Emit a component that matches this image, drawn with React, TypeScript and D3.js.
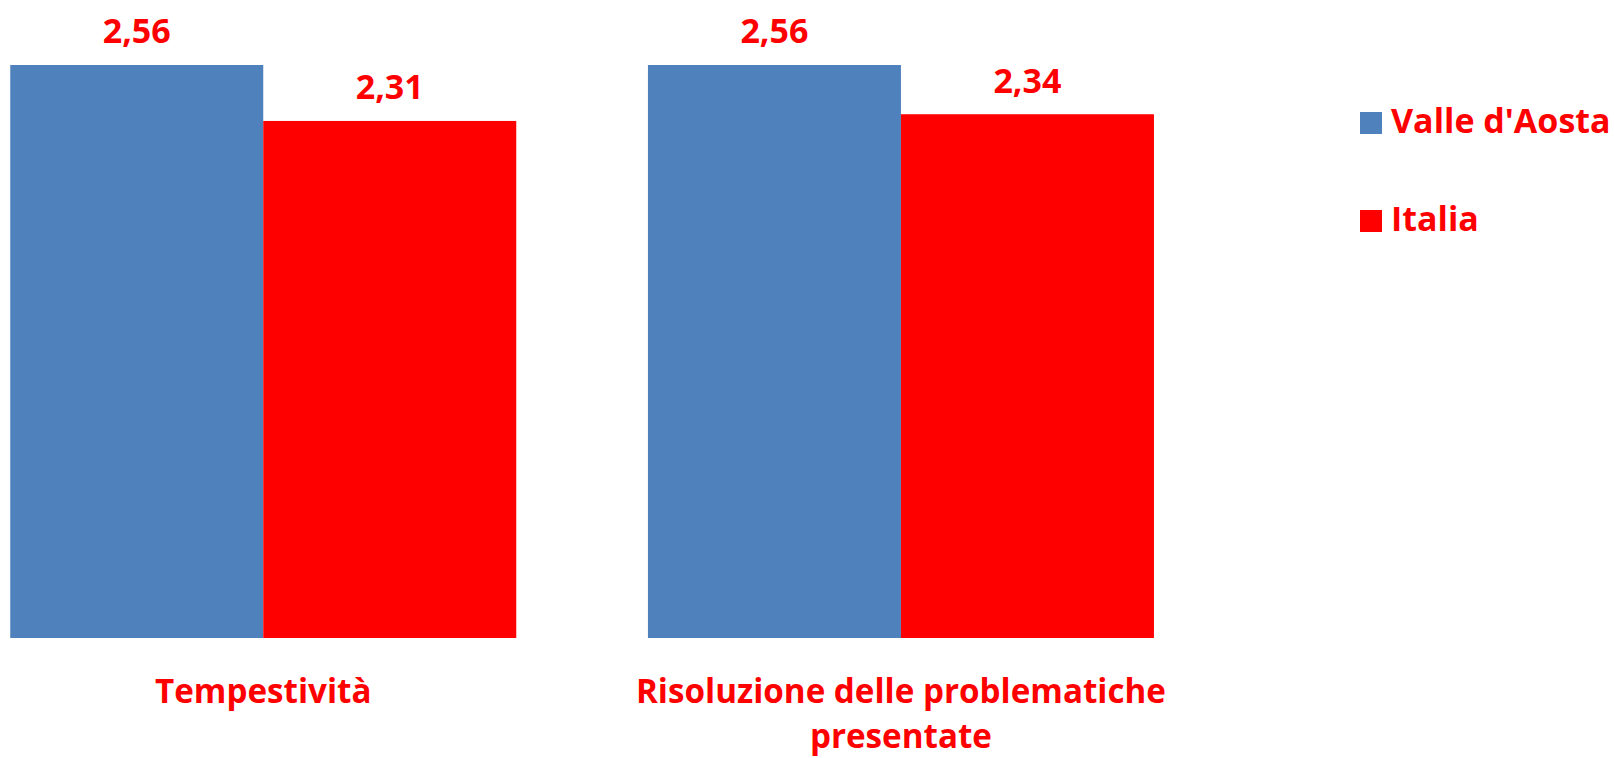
import React, { useEffect, useRef } from "react";
import * as d3 from "d3";

const categories = ["Tempestività", "Risoluzione delle problematiche presentate"];
const categoryLines = [["Tempestività"], ["Risoluzione delle problematiche", "presentate"]];
const seriesNames = ["Valle d'Aosta", "Italia"];
const valleAosta = [2.56, 2.56];
const italia = [2.31, 2.34];
const seriesColors = ["#4F81BD", "#FF0000"];

const W = 1614;
const H = 758;
const FONT = "'Open Sans', 'Noto Sans', sans-serif";

const App: React.FC = () => {
  const svgRef = useRef<SVGSVGElement>(null);

  useEffect(() => {
    if (!svgRef.current) return;
    const svg = d3.select(svgRef.current);
    svg.selectAll("*").remove();

    const series = [valleAosta, italia];

    const x0 = d3.scaleBand<string>()
      .domain(categories)
      .range([-55.6, 1219.8])
      .paddingInner(0.2065)
      .paddingOuter(0.10325);

    const x1 = d3.scaleBand<number>()
      .domain(d3.range(seriesNames.length))
      .range([0, x0.bandwidth()]);

    const y = d3.scaleLinear()
      .domain([0, 3])
      .range([638, 638 - 3 * (573 / 2.56)]);

    const groups = svg.selectAll(".grp")
      .data(categories)
      .enter()
      .append("g")
      .attr("class", "grp")
      .attr("transform", d => `translate(${x0(d)},0)`);

    groups.each(function (cat, ci) {
      const g = d3.select(this);
      series.forEach((vals, si) => {
        const v = vals[ci];
        g.append("rect")
          .attr("x", x1(si)!)
          .attr("y", y(v))
          .attr("width", x1.bandwidth())
          .attr("height", y(0) - y(v))
          .attr("fill", seriesColors[si]);
        g.append("text")
          .attr("x", x1(si)! + x1.bandwidth() / 2)
          .attr("y", y(v) - 21.7)
          .attr("text-anchor", "middle")
          .attr("font-family", FONT)
          .attr("font-weight", 700)
          .attr("font-size", 34)
          .attr("fill", "#FF0000")
          .text(d3.format(".2f")(v).replace(".", ","));
      });

      // category label, wrapped like the original
      const label = g.append("text")
        .attr("text-anchor", "middle")
        .attr("font-family", FONT)
        .attr("font-weight", 700)
        .attr("font-size", 33.2)
        .attr("fill", "#FF0000");
      categoryLines[ci].forEach((line, li) => {
        label.append("tspan")
          .attr("x", x0.bandwidth() / 2)
          .attr("y", 702.5 + li * 45.5)
          .text(line);
      });
    });

    // legend
    const legend = svg.append("g").attr("transform", "translate(1360,112)");
    seriesNames.forEach((name, i) => {
      const row = legend.append("g").attr("transform", `translate(0,${i * 98})`);
      row.append("rect")
        .attr("width", 22)
        .attr("height", 22)
        .attr("fill", seriesColors[i]);
      row.append("text")
        .attr("x", 31)
        .attr("y", 20.7)
        .attr("font-family", FONT)
        .attr("font-weight", 700)
        .attr("font-size", 34)
        .attr("fill", "#FF0000")
        .text(name);
    });
  }, []);

  return (
    <div style={{ position: "absolute", left: 0, top: 0, width: W, height: H, background: "#fff" }}>
      <svg ref={svgRef} width={W} height={H} style={{ display: "block" }} />
    </div>
  );
};

export default App;
